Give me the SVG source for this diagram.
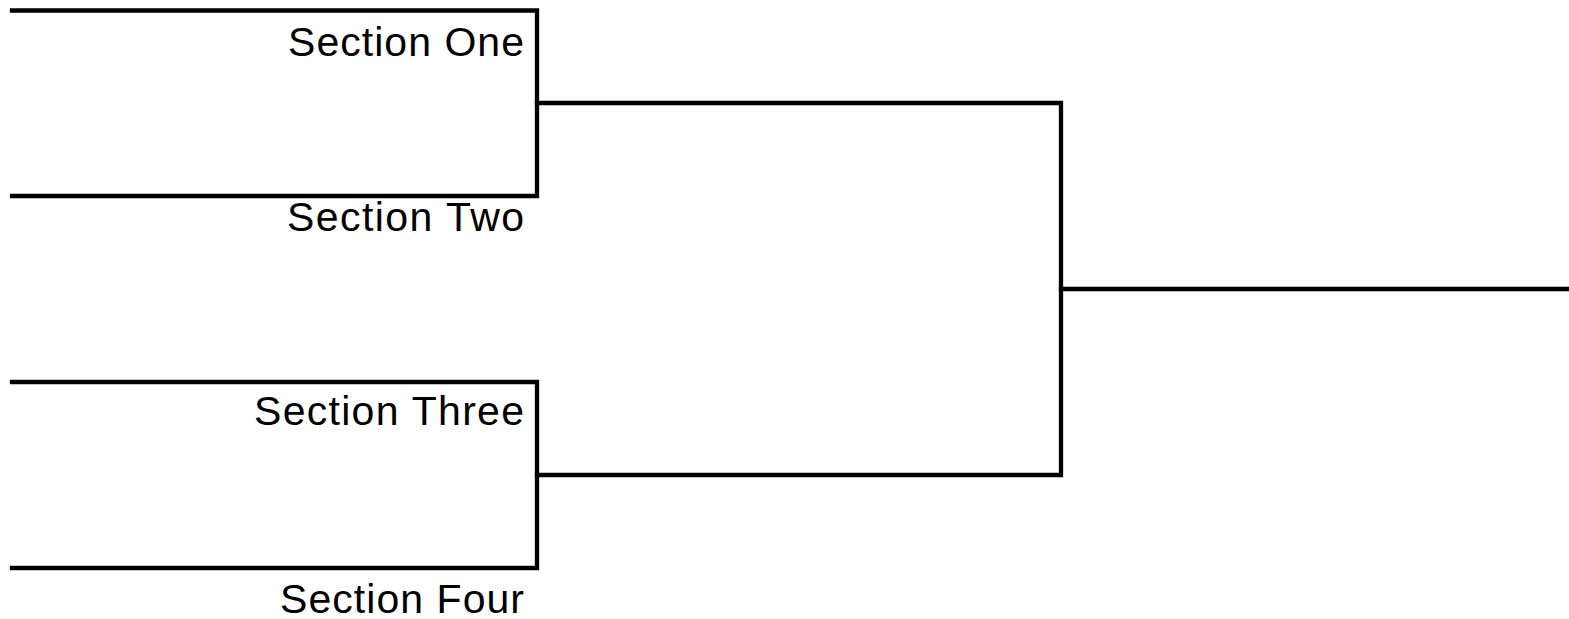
<svg xmlns="http://www.w3.org/2000/svg" width="1569" height="619" viewBox="0 0 1569 619">
<style>
.ln{fill:none;stroke:#000;stroke-width:4.3;stroke-linecap:square;stroke-linejoin:miter}
.lbl{font-family:"Liberation Sans",Arial,sans-serif;font-size:41px;fill:#000;text-anchor:end}
</style>
<rect width="1569" height="619" fill="#fff"/>
<g id="node-section-one"><text class="lbl" x="524" y="56" textLength="236" lengthAdjust="spacing">Section One</text></g>
<g id="node-section-two"><text class="lbl" x="524" y="231" textLength="237" lengthAdjust="spacing">Section Two</text></g>
<g id="node-section-three"><text class="lbl" x="524" y="425" textLength="270" lengthAdjust="spacing">Section Three</text></g>
<g id="node-section-four"><text class="lbl" x="524" y="613" textLength="244" lengthAdjust="spacing">Section Four</text></g>
<g id="connectors">
<path class="ln" d="M12 10.5 H537 V196 H12"/>
<path class="ln" d="M12 382 H537 V568 H12"/>
<path class="ln" d="M537 103 H1061 V475 H537"/>
<path class="ln" d="M1061 289 H1569"/>
</g>
</svg>
